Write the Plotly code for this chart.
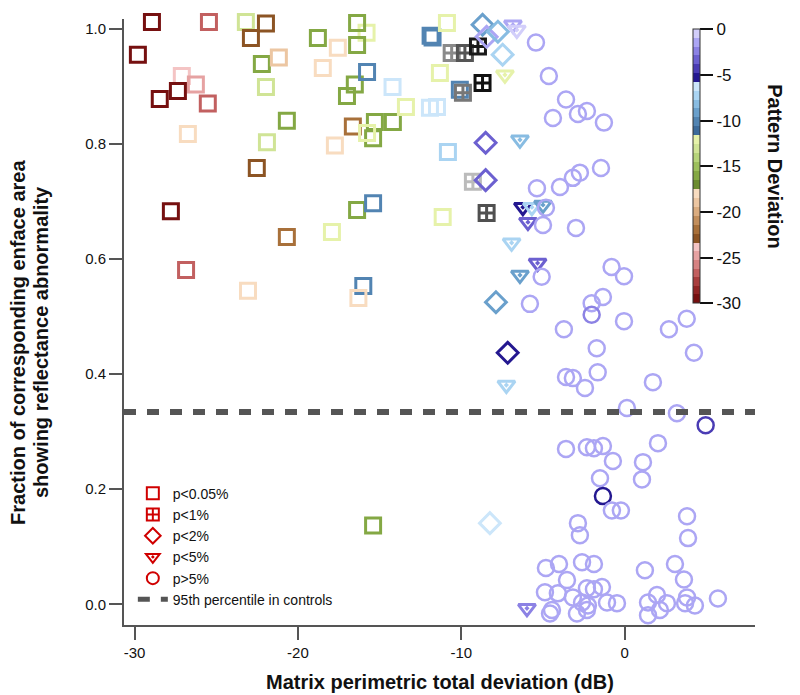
import plotly.graph_objects as go

FONT = "Arial, 'Liberation Sans', sans-serif"

# ---- values ----
# p<0.05%  (open squares): total deviation (dB), fraction abnormal, pattern deviation
sq_td = [-28.94, -27.71, -25.45, -29.80, -27.11, -26.25, -27.35, -28.46, -25.52, -26.74,
         -27.78, -26.85, -23.19, -21.96, -22.88, -22.21, -21.17, -21.96, -20.68, -21.90,
         -22.52, -20.68, -23.06, -17.92, -18.78, -17.56, -18.48, -15.80, -16.38, -16.38,
         -16.52, -17.00, -16.64, -17.74, -16.38, -15.40, -15.77, -14.21, -15.29, -14.19,
         -15.40, -15.77, -13.39, -11.88, -11.76, -10.88, -11.31, -11.92, -11.49, -10.82,
         -10.09, -11.14, -16.00, -16.30, -15.40]
sq_frac = [1.012, 1.019, 1.012, 0.955, 0.918, 0.903, 0.892, 0.878, 0.870, 0.817,
           0.683, 0.581, 1.012, 1.009, 0.984, 0.939, 0.950, 0.899, 0.840, 0.803,
           0.758, 0.638, 0.545, 0.647, 0.984, 0.967, 0.932, 0.993, 1.010, 0.972,
           0.903, 0.883, 0.830, 0.797, 0.685, 0.697, 0.925, 0.899, 0.838, 0.838,
           0.810, 0.819, 0.864, 0.988, 0.985, 1.010, 0.923, 0.863, 0.864, 0.786,
           0.894, 0.673, 0.553, 0.532, 0.137]
sq_pd = [-29.5, -29.5, -26.5, -29.5, -24.0, -24.8, -29.5, -29.5, -26.5, -18.0,
         -29.5, -27.0, -13.0, -22.5, -22.5, -16.0, -18.5, -13.5, -16.0, -13.5,
         -22.5, -21.5, -18.0, -12.5, -16.0, -18.0, -18.0, -12.5, -16.0, -16.0,
         -16.0, -16.0, -21.5, -18.0, -16.0, -10.5, -10.5, -6.5, -16.0, -16.0,
         -16.0, -12.5, -12.5, -10.5, -10.0, -12.5, -12.5, -6.5, -6.5, -7.0,
         -10.0, -12.0, -10.5, -18.0, -16.0]

# p<1%  (squares with cross) - drawn in grey levels
cr_td = [-10.59, -9.78, -8.98, -8.70, -9.90, -9.29, -8.45]
cr_frac = [0.958, 0.958, 0.969, 0.906, 0.889, 0.734, 0.680]
cr_gray = ["#8a8a8a", "#555555", "#1a1a1a", "#111111", "#777777", "#bbbbbb", "#505050"]

# p<2%  (diamonds)
dm_td = [-8.70, -8.45, -7.76, -7.47, -8.51, -8.51, -7.88, -7.16, -8.25]
dm_frac = [1.007, 0.986, 0.995, 0.955, 0.802, 0.737, 0.525, 0.437, 0.141]
dm_pd = [-9.5, -1.5, -8.5, -7.0, -3.8, -3.8, -9.0, -5.3, -6.2]

# p<5%  (down triangles with dot)
tr_td = [-6.84, -6.60, -7.33, -6.41, -6.23, -5.68, -5.00, -5.92, -6.92, -5.33, -6.41, -7.24, -5.98]
tr_frac = [1.007, 0.998, 0.920, 0.807, 0.690, 0.690, 0.694, 0.664, 0.628, 0.593, 0.572, 0.381, -0.007]
tr_pd = [-1.0, -0.5, -12.0, -8.5, -5.3, -7.0, -9.0, -3.5, -7.0, -3.0, -9.0, -7.0, -2.5]

# p>5%  (circles)
ci_td = [-5.43, -4.64, -3.59, -4.39, -2.86, -2.31, -1.27, -5.37, -3.96, -3.17,
         -2.74, -1.45, -4.82, -5.00, -2.98, -0.80, -0.04, -5.08, -5.80, -2.02,
         -1.33, -2.02, -0.04, -3.72, 2.71, 3.80, -1.71, 4.24, -3.59, -3.17,
         -1.65, -2.43, 1.73, 0.14, 3.20, 4.96, -3.59, -2.31, -1.88, -1.33,
         2.04, -0.72, 1.12, -1.51, 1.06, -1.33, -0.78, -0.23, 3.82, -2.86,
         -2.74, 3.88, -4.82, -4.02, -2.61, -1.88, -3.53, -4.88, -4.09, -2.31,
         -1.88, -1.39, -3.17, -2.61, -2.25, -1.08, -0.47, -4.45, -4.57, -2.92,
         -2.31, 1.24, 3.08, 3.63, 1.98, 1.43, 1.43, 2.59, 2.16, 3.82,
         4.30, 5.71, 3.70]
ci_frac = [0.976, 0.918, 0.877, 0.845, 0.852, 0.857, 0.837, 0.723, 0.725, 0.741,
           0.750, 0.758, 0.689, 0.659, 0.654, 0.586, 0.570, 0.569, 0.522, 0.523,
           0.534, 0.503, 0.492, 0.478, 0.478, 0.496, 0.445, 0.437, 0.395, 0.393,
           0.403, 0.376, 0.386, 0.341, 0.332, 0.311, 0.270, 0.273, 0.271, 0.275,
           0.280, 0.249, 0.247, 0.219, 0.217, 0.188, 0.163, 0.163, 0.153, 0.141,
           0.120, 0.115, 0.063, 0.070, 0.073, 0.070, 0.042, 0.021, 0.019, 0.028,
           0.026, 0.030, 0.012, 0.003, -0.002, 0.003, 0.002, -0.010, -0.016, -0.016,
           -0.010, 0.059, 0.070, 0.043, 0.016, 0.003, -0.019, 0.002, -0.010, 0.012,
           -0.002, 0.010, 0.002]
ci_pd = [-1.3] * len(ci_td)
ci_pd[21] = -2.6   # slightly darker circle near 0.50
ci_pd[35] = -4.3   # dark circle near 0.31
ci_pd[45] = -5.4   # navy circle near 0.19

control_p95 = 0.334

x_ticks = [-30, -20, -10, 0]
y_ticks = [0.0, 0.2, 0.4, 0.6, 0.8, 1.0]
cb_ticks = [0, -5, -10, -15, -20, -25, -30]

# colour table of the "Pattern Deviation" bar: hue groups, light -> dark
cb_edges = [0, -5.8, -11.6, -17.5, -23.4, -30]
cb_shades = [
    ["#d2cefa", "#aca6f4", "#8c82e4", "#6c60d0", "#4a3cb4", "#241890"],
    ["#cce6fa", "#aad4f2", "#88bce2", "#6aa0cc", "#5284b2", "#3c6a9a"],
    ["#e6f2aa", "#d0e496", "#b6d47a", "#9cbf5c", "#84a844", "#6c8c30"],
    ["#f8dcc0", "#ecc6a2", "#daac80", "#c28e5c", "#a8703a", "#8c5424"],
    ["#f4c4c4", "#e6a2a2", "#d68282", "#c26060", "#a83e3e", "#902424", "#761010"],
]

colorscale = []
for grp in range(len(cb_shades) - 1, -1, -1):
    hi, lo = cb_edges[grp], cb_edges[grp + 1]
    shades = cb_shades[grp][::-1]
    step = (hi - lo) / len(shades)
    for j, c in enumerate(shades):
        a = round((lo + j * step + 30) / 30, 6)
        b = round((lo + (j + 1) * step + 30) / 30, 6)
        colorscale += [[a, c], [b, c]]
colorscale[0][0] = 0.0
colorscale[-1][0] = 1.0

LEG_RED = "#d00000"

fig = go.Figure()

common = dict(cmin=-30, cmax=0, colorscale=colorscale)

fig.add_trace(go.Scatter(
    x=sq_td, y=sq_frac, mode="markers", showlegend=False, cliponaxis=False,
    marker=dict(symbol="square-open", size=15, color=sq_pd, line=dict(width=3),
                showscale=True,
                colorbar=dict(
                    thickness=7, len=274, lenmode="pixels",
                    x=0.902, xanchor="left", y=0.757, yanchor="middle",
                    tickvals=cb_ticks, ticktext=[str(v) for v in cb_ticks],
                    ticks="outside", ticklen=13, tickwidth=2, tickcolor="#111",
                    tickfont=dict(size=17, family=FONT, color="#111"),
                    outlinewidth=1, outlinecolor="#333", xpad=0, ypad=0),
                **common),
))

fig.add_trace(go.Scatter(
    x=cr_td, y=cr_frac, mode="markers", showlegend=False, cliponaxis=False,
    marker=dict(symbol="square-cross-open", size=15, color=cr_gray, line=dict(width=3)),
))

fig.add_trace(go.Scatter(
    x=dm_td, y=dm_frac, mode="markers", showlegend=False, cliponaxis=False,
    marker=dict(symbol="diamond-open", size=16, color=dm_pd, line=dict(width=3), **common),
))

fig.add_trace(go.Scatter(
    x=tr_td, y=tr_frac, mode="markers", showlegend=False, cliponaxis=False,
    marker=dict(symbol="triangle-down-open-dot", size=15, color=tr_pd, line=dict(width=3), **common),
))

fig.add_trace(go.Scatter(
    x=ci_td, y=ci_frac, mode="markers", showlegend=False, cliponaxis=False,
    marker=dict(symbol="circle-open", size=16, color=ci_pd, line=dict(width=2.5), **common),
))

# legend entries
leg_items = [("square-open", "p<0.05%"), ("square-cross-open", "p<1%"),
             ("diamond-open", "p<2%"), ("triangle-down-open-dot", "p<5%"),
             ("circle-open", "p>5%")]
for sym, name in leg_items:
    fig.add_trace(go.Scatter(
        x=[None], y=[None], mode="markers", name=name,
        marker=dict(symbol=sym, size=11, color=LEG_RED, line=dict(width=2.5)),
    ))

fig.add_hline(y=control_p95, line=dict(color="#555555", width=6, dash="12px,11px"),
              showlegend=True, name="95th percentile in controls", legendrank=2000)

axis_common = dict(
    showline=True, linecolor="#555", linewidth=2, mirror=False,
    ticks="outside", ticklen=13, tickwidth=1.5, tickcolor="#555",
    showgrid=False, zeroline=False,
    tickfont=dict(size=15, family=FONT, color="#111"),
)

title_font = dict(size=20, family=FONT, color="#111")

# the page puts the figure 8px in from the top-left corner, so the
# figure is 8px smaller than the window and the margins are shifted
fig.update_layout(
    width=792, height=687,
    margin=dict(l=116, r=45, t=11, b=70),
    plot_bgcolor="white", paper_bgcolor="white",
    font=dict(family=FONT, color="#111"),
    xaxis=dict(range=[-30.65, 7.98], tickvals=x_ticks,
               ticktext=[str(v) for v in x_ticks], **axis_common),
    yaxis=dict(range=[-0.036, 1.017], tickvals=y_ticks,
               ticktext=[f"{v:.1f}" for v in y_ticks], **axis_common),
    legend=dict(x=0.014, y=0.243, xanchor="left", yanchor="top",
                bgcolor="rgba(0,0,0,0)", font=dict(size=14, family=FONT, color="#111"),
                itemsizing="constant"),
    annotations=[
        dict(text="<b>Matrix perimetric total deviation (dB)</b>", xref="paper", yref="paper",
             x=0.5, y=-0.094, xanchor="center", yanchor="middle", showarrow=False,
             font=title_font),
        dict(text="<b>Fraction of corresponding enface area</b>",
             xref="paper", yref="paper", x=-0.168, y=0.467, xanchor="center", yanchor="middle",
             textangle=-90, showarrow=False, font=title_font),
        dict(text="<b>showing reflectance abnormality</b>",
             xref="paper", yref="paper", x=-0.1315, y=0.467, xanchor="center", yanchor="middle",
             textangle=-90, showarrow=False, font=title_font),
        dict(text="<b>Pattern Deviation</b>", xref="paper", yref="paper",
             x=1.0317, y=0.757, xanchor="center", yanchor="middle", textangle=90,
             showarrow=False, font=title_font),
    ],
)

fig.write_html("out.html")
